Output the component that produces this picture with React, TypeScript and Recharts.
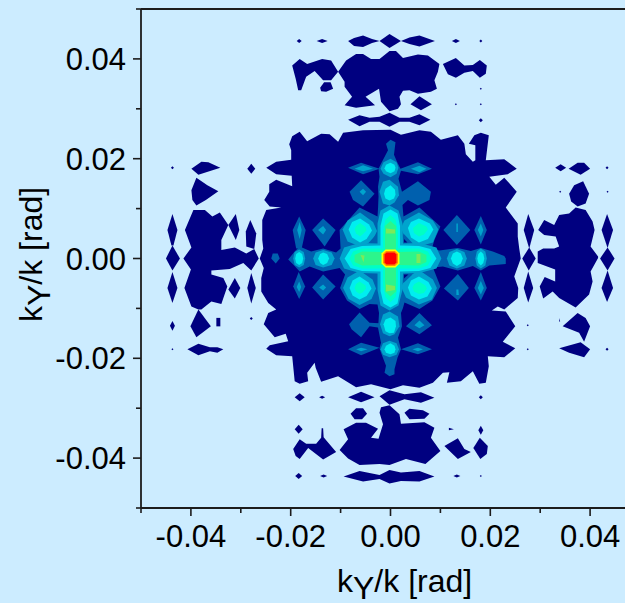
import React from "react";
import { ScatterChart, Scatter, XAxis, YAxis, ReferenceLine } from "recharts";

const mainBlob = [0,25.8, 2.1,24.8, 5.8,25.7, 8.1,25.4, 10.1,23.8, 13.5,24.7, 14.8,23.0, 15.1,20.9, 16.5,19.4, 17.0,19.7, 17.0,22.7, 15.7,23.0, 16.8,24.7, 18.1,25.2, 19.7,24.7, 19.1,19.7, 22.8,19.9, 25.3,18.0, 23.5,16.9, 19.8,16.4, 21.1,14.8, 22.8,16.2, 25.3,13.4, 23.1,10.2, 25.5,7.0, 25.5,4.4, 25.8,2.0, 26.1,0, 24.8,-3.6, 25.6,-5.9, 25.5,-7.9, 22.8,-10.2, 21.5,-9.6, 20.3,-10.4, 23.1,-10.6, 25.0,-13.6, 22.5,-16.7, 25.0,-18.0, 22.8,-19.8, 19.5,-19.6, 19.7,-21.6, 19.1,-24.9, 17.8,-25.1, 16.5,-22.6, 14.1,-24.6, 11.3,-24.9, 11.8,-22.8, 10.5,-22.9, 8.5,-24.9, 5.8,-25.9, 2.5,-25.4, 0,-26.2, -3.9,-25.2, -6.9,-25.8, -10.5,-23.6, -13.9,-24.7, -15.0,-21.9, -15.2,-20.9, -16.7,-22.9, -16.5,-24.6, -18.2,-25.1, -19.2,-24.6, -19.7,-19.6, -22.9,-19.4, -24.9,-18.1, -24.2,-17.4, -20.5,-16.6, -21.0,-15.1, -23.2,-15.8, -25.4,-13.2, -24.5,-10.9, -22.9,-10.2, -24.5,-8.9, -25.9,-6.6, -25.9,-3.9, -25.4,-1.9, -26.2,0, -25.5,2.0, -25.7,3.7, -25.7,7.7, -24.9,9.7, -21.9,10.2, -24.2,10.4, -25.3,11.7, -24.3,13.4, -24.3,14.9, -22.9,15.8, -19.7,14.5, -19.8,16.6, -22.9,16.9, -24.9,18.2, -22.9,19.4, -19.9,19.8, -19.9,21.7, -20.3,22.9, -19.7,24.5, -18.2,25.4, -16.7,23.5, -13.9,25.0, -12.2,24.9, -10.5,23.4, -9.5,25.2, -5.5,25.7];

const topIslands = [
  [-18.8,43.6, -18.3,44.0, -17.8,43.6, -18.3,43.2],
  [-14.8,43.6, -13.7,44.0, -12.6,43.6, -13.7,43.2],
  [-8.5,43.6, -7.3,44.2, -5.5,44.7, -3.7,44.0, -2.2,43.6, -3.7,43.2, -5.5,42.4, -7.3,42.6],
  [-2.2,43.6, -0.2,45.0, 2.1,43.6, -0.2,42.2],
  [2.1,43.6, 3.8,44.3, 5.8,44.7, 8.9,43.6, 5.8,42.5, 3.8,43.0],
  [12.3,43.6, 13.1,44.0, 13.9,43.6, 13.1,43.2],
  [17.8,43.6, 18.1,43.9, 18.4,43.6, 18.1,43.3],
  [-18.2,40.0, -16.7,39.0, -13.7,40.0, -11.9,39.7, -10.5,37.4, -11.9,35.7, -13.5,35.7, -15.2,37.6, -16.9,36.4, -17.9,33.7, -18.5,33.7, -19.0,36.0, -19.7,38.7],
  [-14.1,34.2, -13.3,35.3, -12.0,35.3, -11.5,34.0, -12.9,33.4, -13.9,33.5],
  [-10.5,37.4, -8.9,39.7, -6.9,41.0, -5.5,41.0, -3.9,40.0, -2.2,40.0, -0.2,41.6, 1.1,41.6, 2.5,40.2, 5.5,40.9, 7.5,40.7, 9.8,39.0, 9.5,37.4, 8.8,35.7, 9.3,34.0, 8.1,33.4, 5.5,33.0, 3.8,33.7, 2.5,33.6, 1.8,32.4, 2.1,30.9, 1.5,30.0, -0.2,29.5, -1.9,31.4, -2.3,34.0, -5.0,32.4, -3.1,30.7, -6.9,30.2, -9.2,30.7, -7.7,32.4, -9.2,34.4, -9.2,35.4],
  [4.0,30.9, 5.8,32.5, 8.3,30.9, 6.1,29.7],
  [10.5,39.0, 13.1,40.2, 14.8,38.7, 16.5,38.8, 17.9,39.8, 19.3,38.7, 19.1,37.0, 17.9,36.2, 16.5,37.6, 14.8,37.2, 13.1,36.2, 11.5,36.9],
  [17.9,34.0, 18.1,34.2, 18.3,34.0, 18.1,33.8],
  [12.9,30.9, 13.1,31.1, 13.3,30.9, 13.1,30.7],
  [17.9,30.9, 18.1,31.1, 18.3,30.9, 18.1,30.7],
  [17.7,27.7, 18.1,28.1, 18.5,27.7, 18.1,27.3],
  [-8.5,27.8, -6.2,28.7, -4.2,28.2, -2.2,28.4, -0.2,29.2, 1.8,28.2, 3.8,28.2, 5.8,28.9, 8.0,27.8, 5.8,26.7, 3.8,27.4, 1.8,27.4, -0.2,26.4, -2.2,27.4, -4.2,27.4, -6.2,26.5],
];

const leftIslands = [
  [-44.0,18.2, -43.7,18.5, -43.4,18.2, -43.7,17.9],
  [-39.9,18.0, -37.9,19.4, -36.5,19.3, -34.1,18.2, -38.5,16.8],
  [-28.7,18.0, -27.9,19.0, -27.1,18.0, -27.9,17.0],
  [-38.9,16.2, -36.7,14.7, -34.5,13.5, -37.0,11.7, -38.9,10.6, -39.7,11.7, -39.9,13.7],
  [-43.7,8.9, -42.7,5.7, -43.5,2.6, -43.9,2.6, -44.7,5.7],
  [-43.7,2.6, -42.2,0, -43.7,-2.4, -45.0,0],
  [-43.7,-2.7, -42.7,-5.9, -43.7,-8.9, -44.7,-5.9],
  [-41.5,0, -39.9,2.2, -41.2,5.7, -39.5,9.7, -37.2,9.7, -35.7,8.4, -34.2,9.2, -32.5,6.7, -33.9,3.7, -33.9,1.7, -31.2,2.2, -28.9,1.0, -27.3,1.9, -26.4,0, -27.9,-2.4, -29.5,-0.9, -32.2,-2.1, -35.9,-2.4, -35.9,-3.2, -33.5,-3.9, -32.7,-5.6, -33.9,-9.1, -35.9,-8.6, -37.9,-10.2, -38.5,-10.2, -39.9,-9.6, -41.3,-5.9, -40.0,-2.2],
  [-31.0,8.9, -30.3,5.7, -31.0,3.7, -32.5,6.7],
  [-28.1,7.7, -26.9,5.0, -27.3,1.9, -28.9,2.4, -29.0,5.4],
  [-31.2,-3.9, -30.1,-5.9, -31.2,-8.0, -32.5,-6.2],
  [-27.9,-2.9, -27.0,-5.9, -27.9,-9.0, -28.7,-5.9],
  [-38.5,-10.2, -36.0,-13.6, -38.9,-15.8, -40.1,-13.6],
  [-34.9,-11.9, -34.1,-11.9, -34.1,-13.6, -34.9,-13.6],
  [-28.2,-12.0, -27.9,-11.7, -27.6,-12.0, -27.9,-12.3],
  [-44.2,-13.5, -43.7,-12.5, -43.2,-13.5, -43.7,-14.5],
  [-43.9,-18.2, -43.7,-18.0, -43.5,-18.2, -43.7,-18.4],
  [-40.7,-18.2, -38.5,-17.1, -36.2,-17.8, -34.7,-17.8, -33.5,-18.2, -34.7,-18.9, -36.2,-18.6, -38.5,-19.4],
];

const bottomIslands = [
  [-19.2,-27.8, -18.2,-27.0, -17.2,-27.8, -18.2,-28.6],
  [-14.3,-27.8, -13.7,-27.5, -13.1,-27.8, -13.7,-28.1],
  [-8.5,-27.8, -5.9,-26.7, -3.2,-27.8, -5.9,-28.8],
  [-2.2,-27.6, -0.2,-26.4, 2.8,-27.2, 6.1,-26.8, 8.8,-27.9, 6.1,-28.9, 2.8,-28.2, -0.2,-29.3],
  [-8.0,-31.1, -6.9,-30.0, -5.5,-30.0, -4.7,-31.1, -5.7,-32.2, -7.2,-32.2],
  [2.8,-30.9, 3.8,-30.1, 6.5,-30.4, 7.8,-31.1, 6.8,-32.1, 3.8,-32.2],
  [-19.2,-34.2, -18.4,-33.3, -17.6,-34.2, -18.4,-35.1],
  [-19.5,-38.2, -18.2,-36.2, -16.9,-37.1, -14.9,-37.1, -13.9,-35.9, -13.8,-34.0, -13.5,-34.0, -13.4,-35.8, -10.9,-38.8, -13.5,-40.3, -16.5,-38.0, -18.2,-40.2, -19.0,-39.6],
  [-10.2,-38.4, -8.5,-36.2, -9.4,-34.2, -6.9,-32.9, -4.9,-32.9, -2.5,-34.1, -3.9,-35.9, -2.4,-36.1, -1.5,-33.2, -2.2,-30.9, -1.9,-29.8, -0.2,-29.4, 1.8,-31.2, 2.1,-33.1, 6.8,-32.8, 8.8,-33.9, 8.1,-35.9, 10.0,-38.6, 7.0,-41.2, 3.1,-40.2, -0.2,-41.4, -2.2,-41.2, -6.2,-41.4, -8.5,-40.1],
  [-19.1,-43.6, -18.4,-43.0, -17.7,-43.6, -18.4,-44.2],
  [-14.1,-43.6, -13.4,-43.3, -12.7,-43.6, -13.4,-43.9],
  [-9.4,-43.7, -6.2,-42.6, -2.2,-43.4, -0.2,-42.4, 2.1,-42.9, 5.8,-42.6, 8.8,-43.7, 5.8,-44.7, 2.1,-44.6, -0.2,-45.1, -2.2,-44.2, -5.5,-44.7],
  [11.7,-33.9, 12.7,-34.2, 11.7,-34.4],
  [17.7,-27.8, 18.1,-27.4, 18.5,-27.8, 18.1,-28.2],
  [17.6,-34.4, 18.1,-33.5, 18.6,-34.4, 18.1,-35.3],
  [10.8,-37.6, 13.5,-36.0, 14.8,-38.2, 16.1,-38.8, 13.5,-40.2],
  [16.6,-38.0, 17.9,-35.9, 19.5,-37.6, 19.3,-39.2, 18.0,-40.2],
  [12.6,-43.6, 13.3,-43.3, 14.0,-43.6, 13.3,-43.9],
  [17.9,-43.6, 18.1,-43.4, 18.3,-43.6, 18.1,-43.8],
];

const rightIslands = [
  [33.0,18.2, 34.1,18.9, 35.2,18.2, 34.1,17.5],
  [35.7,18.0, 37.5,19.2, 38.8,19.2, 40.0,18.0, 38.1,16.8],
  [43.1,18.2, 43.4,18.5, 43.7,18.2, 43.4,17.9],
  [33.8,13.4, 34.0,13.6, 34.2,13.4, 34.0,13.2],
  [43.3,13.4, 43.5,13.6, 43.7,13.4, 43.5,13.2],
  [35.8,13.0, 36.8,14.7, 38.6,15.5, 39.8,13.0, 39.1,11.0, 37.5,10.4, 36.2,11.4],
  [29.6,5.7, 30.8,7.7, 32.8,6.7, 33.8,8.7, 35.8,9.0, 37.1,10.2, 39.1,9.7, 40.5,7.4, 40.9,5.7, 40.1,2.4, 41.6,0.4, 41.6,0.1, 40.1,-2.6, 40.5,-4.6, 39.8,-7.2, 37.1,-9.8, 33.8,-7.9, 32.5,-6.6, 30.6,-8.0, 29.9,-5.6, 30.9,-3.7, 33.0,-4.6, 33.0,-2.2, 29.5,-0.9, 29.5,0.1, 29.5,1.4, 30.6,2.0, 32.8,2.0, 33.8,2.4, 33.1,4.4, 30.8,4.7],
  [27.6,8.9, 28.8,5.7, 27.8,2.0, 26.7,5.7],
  [27.8,2.2, 29.1,0, 27.7,-2.4, 26.4,0],
  [27.6,-2.6, 28.6,-5.9, 27.6,-8.8, 26.7,-5.9],
  [43.4,8.9, 44.6,5.7, 43.5,2.1, 42.3,5.7],
  [43.5,2.2, 44.9,0, 43.5,-2.4, 42.0,0],
  [43.5,-2.4, 44.6,-5.9, 43.4,-8.7, 42.3,-5.9],
  [33.8,-11.9, 34.0,-12.6, 33.8,-12.7],
  [34.5,-13.6, 37.5,-10.9, 39.1,-11.9, 40.0,-13.6, 38.8,-16.7, 37.8,-14.9],
  [33.8,-18.0, 38.1,-16.8, 40.0,-18.2, 38.8,-19.8, 35.8,-18.9],
  [27.3,-13.4, 27.5,-13.2, 27.7,-13.4, 27.5,-13.6],
  [27.3,-18.2, 27.5,-18.0, 27.7,-18.2, 27.5,-18.4],
  [43.1,-18.2, 43.4,-17.9, 43.7,-18.2, 43.4,-18.5],
];

const blueAreas = [
  [0,23.8, 1.0,23.3, 0.7,20.8, 1.3,19.4, 2.0,18.0, 5.5,19.3, 8.3,18.0, 5.5,16.9, 2.1,17.6, 1.6,16.0, 2.3,13.4, 5.5,15.5, 8.1,13.4, 7.8,11.7, 5.5,10.6, 3.5,11.7, 2.4,10.7, 2.6,8.4, 5.8,10.2, 10.0,6.4, 8.8,3.7, 8.3,2.0, 9.8,1.6, 13.5,2.1, 16.1,1.5, 18.1,2.1, 20.5,1.4, 22.8,0.5, 23.1,0, 23.1,-1.1, 19.8,-1.4, 18.1,-2.4, 16.5,-1.5, 13.5,-2.4, 10.5,-1.6, 8.5,-1.8, 10.0,-5.6, 8.4,-8.4, 5.8,-10.1, 2.8,-8.8, 2.5,-9.9, 2.1,-10.9, 2.3,-13.6, 1.5,-15.9, 2.1,-18.2, 1.4,-19.9, 0.8,-22.2, 0.8,-23.2, -0.2,-23.6, -1.2,-22.9, -0.9,-21.5, -1.9,-18.9, -2.2,-18.0, -1.9,-16.9, -2.5,-13.9, -2.4,-12.6, -2.3,-10.9, -2.6,-9.2, -4.2,-9.1, -6.2,-10.1, -8.7,-8.4, -10.1,-5.9, -9.1,-3.2, -10.2,-1.9, -13.5,-2.6, -16.2,-1.6, -18.2,-2.6, -19.5,-1.2, -20.5,-0.2, -19.2,1.4, -18.2,2.4, -15.9,1.4, -13.5,2.0, -10.9,1.2, -10.0,2.0, -10.2,5.7, -6.2,10.2, -2.6,8.4, -2.5,10.0, -2.4,12.4, -2.5,14.4, -2.2,16.4, -2.4,18.0, -1.9,19.0, -0.5,21.7, -0.9,23.0],
  [-23.9,0, -23.6,1.0, -22.6,1.0, -22.2,0, -23.0,-1.0],
  [-8.2,13.4, -5.9,15.7, -3.2,13.0, -5.5,10.4, -7.5,11.7],
  [-8.5,18.2, -5.9,19.2, -2.2,18.0, -5.5,16.9],
  [-13.5,8.0, -11.0,5.7, -13.2,2.4, -15.7,5.7],
  [-18.3,8.4, -17.0,5.7, -17.8,2.0, -18.9,2.0, -19.6,5.7],
  [10.6,5.7, 13.3,8.7, 16.0,5.7, 13.3,2.7],
  [18.1,8.5, 19.3,5.7, 18.1,2.8, 16.8,5.7],
  [10.7,-6.0, 13.5,-3.1, 15.7,-5.9, 13.5,-8.4],
  [18.1,-2.7, 19.3,-5.9, 18.1,-8.4, 16.8,-5.9],
  [3.1,-13.6, 5.8,-10.9, 8.3,-13.4, 5.8,-15.2],
  [2.1,-18.2, 5.5,-17.0, 8.3,-18.2, 5.5,-19.2],
  [-8.5,-18.2, -5.9,-16.9, -2.2,-17.9, -5.9,-19.4],
  [-8.3,-13.2, -6.2,-10.8, -4.2,-12.9, -2.2,-13.0, -2.2,-13.9, -4.2,-13.6, -5.9,-15.8, -7.8,-14.2],
  [-19.5,-5.6, -18.4,-2.7, -17.1,-5.6, -18.3,-8.1],
  [-15.7,-5.8, -13.5,-3.2, -11.0,-5.6, -13.5,-8.2],
];

const tealAreas = [
  [-0.2,10.6, 1.6,9.6, 2.4,7.0, 2.5,3.0, 5.8,3.1, 9.2,2.2, 10.2,0, 9.2,-2.0, 5.8,-2.9, 2.5,-3.0, 2.4,-6.3, 1.6,-9.4, -0.2,-10.4, -2.0,-9.4, -2.6,-6.3, -2.6,-3.0, -6.2,-2.9, -9.3,-2.0, -10.2,0, -9.3,2.2, -6.2,3.1, -2.6,3.0, -2.6,7.0, -2.0,9.6],
  [5.7,9.2, 8.5,7.6, 9.6,5.8, 8.5,3.2, 5.7,2.4, 3.1,3.6, 2.1,6.1, 2.8,7.6],
  [-6.1,9.2, -3.5,7.3, -2.7,5.5, -3.7,3.4, -6.1,2.4, -8.6,3.4, -9.6,5.8, -8.6,7.6],
  [-6.2,-2.4, -3.6,-4.2, -2.9,-6.0, -3.8,-8.1, -6.2,-9.3, -8.4,-8.1, -9.5,-5.9, -8.6,-3.8],
  [5.7,-2.3, 8.5,-4.2, 9.3,-5.9, 8.3,-8.2, 5.7,-9.2, 3.1,-7.8, 2.1,-5.6, 3.1,-4.0],
  [0,20.0, 1.2,19.3, 1.6,18.2, 1.2,17.0, 0,16.3, -1.4,17.0, -2.0,18.0, -1.4,19.3],
  [-0.2,15.8, 1.5,14.4, 1.7,12.7, 0.8,11.2, -0.2,10.6, -1.5,11.0, -2.2,13.4, -1.5,15.4],
  [-0.2,-10.6, 1.5,-11.6, 1.8,-13.6, 0.8,-15.2, -0.2,-15.6, -1.5,-15.0, -2.1,-13.2, -1.5,-11.2],
  [-0.2,-16.5, 1.2,-17.0, 1.7,-18.2, 1.2,-19.3, -0.2,-19.8, -1.5,-19.3, -2.0,-18.2, -1.5,-17.0],
  [11.3,0, 11.8,1.3, 13.3,1.9, 14.8,1.3, 15.3,0, 14.8,-1.4, 13.3,-2.0, 11.8,-1.4],
  [17.0,0, 17.3,1.4, 18.1,2.0, 19.0,1.4, 19.3,0, 19.0,-1.4, 18.1,-2.0, 17.3,-1.4],
  [-15.5,0, -15.0,1.2, -13.5,1.7, -11.8,1.2, -11.2,0, -11.8,-1.3, -13.5,-1.8, -15.0,-1.3],
  [-19.5,0, -19.2,1.3, -18.3,1.8, -17.4,1.3, -17.1,0, -17.4,-1.3, -18.3,-1.8, -19.2,-1.3],
  [-18.7,5.7, -18.2,7.3, -17.8,5.7, -18.2,3.9],
  [-14.5,5.7, -13.5,6.5, -12.9,5.7, -13.5,4.8],
  [17.5,5.7, 18.1,7.0, 18.6,5.7, 18.1,4.4],
  [13.2,7.0, 13.5,7.0, 13.5,5.3, 13.2,5.3],
  [-18.8,-5.7, -18.3,-4.6, -17.9,-5.7, -18.3,-6.7],
  [-14.3,-5.8, -13.5,-5.2, -12.9,-5.8, -13.5,-6.4],
  [17.5,-5.9, 18.1,-4.5, 18.7,-5.9, 18.1,-7.2],
  [13.2,-6.2, 13.6,-6.2, 13.7,-7.3, 13.2,-7.3],
  [4.1,18.0, 5.8,18.6, 7.2,18.0, 5.8,17.3],
  [-7.2,18.0, -5.5,18.7, -3.5,18.0, -5.5,17.5],
  [4.4,-18.2, 5.5,-17.9, 6.5,-18.2, 5.5,-18.6],
  [-6.9,-18.2, -5.9,-17.9, -4.6,-18.2, -5.9,-18.6],
  [4.8,-13.4, 5.8,-12.4, 6.8,-13.4, 5.8,-14.0],
  [-6.2,13.4, -5.5,14.0, -4.9,13.4, -5.5,12.7],
];

const blueNotches = [
  [2.6,3.2, 4.4,3.1, 2.6,5.0],
  [2.6,-3.2, 4.4,-3.2, 2.6,-4.9],
  [-2.7,3.2, -4.4,3.1, -2.7,5.0],
  [-2.7,-3.2, -4.4,-3.2, -2.7,-5.0],
];

const navyNotches = [
  [2.7,3.2, 3.4,3.2, 2.7,3.9],
  [2.7,-3.2, 3.6,-3.2, 2.7,-4.0],
];

const cyanAreas = [
  [0,9.8, 1.4,9.0, 1.9,6.5, 1.9,2.6, 5.7,2.5, 8.0,1.9, 9.2,0, 8.0,-1.9, 5.7,-2.5, 1.9,-2.6, 1.9,-6.5, 1.4,-9.0, 0,-9.8, -1.4,-9.0, -2.0,-6.5, -2.0,-2.6, -5.7,-2.5, -8.0,-1.9, -9.2,0, -8.0,1.9, -5.7,2.5, -2.0,2.6, -2.0,6.5, -1.4,9.0],
  [5.7,8.0, 7.9,7.0, 8.6,5.8, 7.5,3.9, 5.7,3.2, 4.1,4.2, 3.5,6.1, 4.1,7.3],
  [-6.1,8.0, -4.3,6.8, -3.7,5.6, -4.8,3.9, -6.1,3.2, -7.7,4.2, -8.4,5.8, -7.7,7.3],
  [-6.2,-3.6, -4.4,-4.8, -3.8,-6.0, -4.8,-7.5, -6.2,-8.2, -7.6,-7.4, -8.2,-5.9, -7.6,-4.4],
  [5.7,-3.6, 7.6,-4.7, 8.3,-6.0, 7.4,-7.6, 5.7,-8.2, 4.1,-7.4, 3.5,-5.8, 4.1,-4.4],
  [0,19.2, 0.8,18.8, 1.0,18.2, 0.8,17.5, 0,17.1, -0.9,17.5, -1.2,18.1, -0.9,18.8],
  [0,14.7, 0.9,13.8, 1.0,12.8, 0.7,12.0, -0.2,11.6, -1.0,12.0, -1.3,13.0, -1.0,14.0],
  [0,-11.8, 1.0,-12.5, 1.1,-13.6, 0.7,-14.9, -0.2,-15.0, -1.0,-14.6, -1.4,-13.2, -1.0,-12.2],
  [0,-17.0, 0.8,-17.5, 1.0,-18.2, 0.8,-18.9, 0,-19.2, -0.9,-18.9, -1.2,-18.2, -0.9,-17.5],
  [12.1,0, 12.5,1.0, 13.3,1.4, 14.1,1.0, 14.5,0, 14.1,-1.0, 13.3,-1.5, 12.5,-1.0],
  [17.4,0, 17.6,0.9, 18.1,1.4, 18.6,0.9, 18.8,0, 18.6,-0.9, 18.1,-1.4, 17.6,-0.9],
  [-14.5,0, -14.1,0.9, -13.5,1.2, -12.7,0.9, -12.3,0, -12.7,-0.9, -13.5,-1.3, -14.1,-0.9],
  [-19.1,0, -18.9,0.9, -18.3,1.3, -17.7,0.9, -17.5,0, -17.7,-0.9, -18.3,-1.3, -18.9,-0.9],
];

const aquaAreas = [
  [0,8.7, 1.0,7.8, 1.5,5.5, 1.5,2.0, 5.7,2.0, 7.5,1.4, 8.2,0, 7.5,-1.4, 5.7,-2.0, 1.5,-2.0, 1.5,-5.5, 1.0,-7.8, 0,-8.7, -1.0,-7.8, -1.5,-5.5, -1.5,-2.0, -5.7,-2.0, -7.5,-1.4, -8.2,0, -7.5,1.4, -5.7,2.0, -1.5,2.0, -1.5,5.5, -1.0,7.8],
  [5.7,7.1, 7.2,6.4, 7.5,5.8, 6.7,4.8, 5.7,4.4, 4.7,5.1, 4.5,6.1],
  [-6.1,7.1, -5.0,6.3, -4.8,5.6, -5.6,4.8, -6.1,4.4, -6.9,5.0, -7.2,5.8, -6.9,6.5],
  [-6.2,-4.6, -5.0,-5.4, -4.9,-6.0, -5.6,-6.8, -6.2,-7.1, -6.9,-6.6, -7.2,-5.9, -6.9,-5.1],
  [5.7,-4.6, 7.0,-5.4, 7.3,-6.0, 6.7,-6.9, 5.7,-7.1, 4.7,-6.6, 4.4,-5.8, 4.8,-5.1],
];

const greenAreas = [
  [1.5,1.3, 5.7,1.4, 7.2,0.7, 7.2,-0.7, 5.7,-1.4, 1.5,-1.3],
  [-1.5,1.3, -5.7,1.4, -7.2,0.7, -7.2,-0.7, -5.7,-1.4, -1.5,-1.3],
  [0,7.5, 1.1,6.5, 1.1,1.5, -1.1,1.5, -1.1,6.5],
  [0,-7.6, 1.1,-6.6, 1.1,-1.5, -1.1,-1.5, -1.1,-6.6],
];

const limeAreas = [
  [5.2,0.9, 6.0,0.9, 6.0,-0.9, 5.2,-0.9],
  [-6.0,0.7, -5.2,0.6, -5.4,-0.8],
  [-0.9,6.0, 0.9,5.8, 0.9,5.0, -0.9,5.0],
  [-0.9,-5.2, 0.9,-5.5, 0.9,-6.3, -0.9,-6.6],
];

const yellowCore = [[-1.0,1.8, 1.0,1.8, 1.8,1.0, 1.8,-1.0, 1.0,-1.8, -1.0,-1.8, -1.8,-1.0, -1.8,1.0]];
const orangeCore = [[-0.9,1.5, 0.9,1.5, 1.5,0.9, 1.5,-0.9, 0.9,-1.5, -0.9,-1.5, -1.5,-0.9, -1.5,0.9]];
const redCore = [[-0.8,1.2, 0.8,1.2, 1.2,0.8, 1.2,-0.8, 0.8,-1.2, -0.8,-1.2, -1.2,-0.8, -1.2,0.8]];

const NAVY = "#000080";
const layers: [number[][], string][] = [
  [[mainBlob], NAVY],
  [topIslands, NAVY],
  [leftIslands, NAVY],
  [bottomIslands, NAVY],
  [rightIslands, NAVY],
  [blueAreas, "#0060ae"],
  [tealAreas, "#00a4cd"],
  [blueNotches, "#0060ae"],
  [navyNotches, NAVY],
  [cyanAreas, "#00eef0"],
  [aquaAreas, "#00ffc4"],
  [greenAreas, "#2cf58c"],
  [limeAreas, "#7cea5a"],
  [yellowCore, "#ffff00"],
  [orangeCore, "#ff9000"],
  [redCore, "#ff0000"],
];

const tickValues = [-0.05, -0.04, -0.03, -0.02, -0.01, 0, 0.01, 0.02, 0.03, 0.04, 0.05];
const labelledTicks = ["-0.04", "-0.02", "0.00", "0.02", "0.04"];

const toPoints = (flat: number[]) => {
  const pts: { x: number; y: number }[] = [];
  for (let i = 0; i + 1 < flat.length; i += 2) pts.push({ x: flat[i] / 1000, y: flat[i + 1] / 1000 });
  return pts;
};

const INK = "#1c1c1c";
const FONT = "'Liberation Sans', Arial, sans-serif";
const FS = 31;
const TITLE_FS = 32;

const XTick = (p: any) => {
  const t = Number(p.payload.value).toFixed(2);
  const major = labelledTicks.includes(t);
  return (
    <g>
      <line x1={p.x} x2={p.x} y1={p.y} y2={p.y + (major ? 8 : 5)} stroke={INK} strokeWidth={1.6} />
      {major && (
        <text x={p.x} y={p.y + 39} textAnchor="middle" fontFamily={FONT} fontSize={FS} fill="#000">{t}</text>
      )}
    </g>
  );
};

const YTick = (p: any) => {
  const t = Number(p.payload.value).toFixed(2);
  const major = labelledTicks.includes(t);
  return (
    <g>
      <line x1={p.x} x2={p.x - (major ? 8 : 5)} y1={p.y} y2={p.y} stroke={INK} strokeWidth={1.6} />
      {major && (
        <text x={p.x - 15} y={p.y + 11} textAnchor="end" fontFamily={FONT} fontSize={FS} fill="#000">{t}</text>
      )}
    </g>
  );
};

const XTitle = () => (
  <text x={337} y={592} fontFamily={FONT} fontSize={TITLE_FS} fill="#000">
    k<tspan dy={7}>Y</tspan><tspan dy={-7}>/k [rad]</tspan>
  </text>
);

const YTitle = () => (
  <text transform="translate(42,322) rotate(-90)" fontFamily={FONT} fontSize={TITLE_FS} fill="#000">
    k<tspan dy={8}>Y</tspan><tspan dy={-8}>/k [rad]</tspan>
  </text>
);

export default function App() {
  return (
    <div style={{ position: "absolute", left: 0, top: 0, width: 625, height: 603, overflow: "hidden", background: "#ccecff" }}>
      <ScatterChart width={700} height={603} margin={{ top: 9, right: 60, bottom: 0, left: 0 }}>
        <XAxis type="number" dataKey="x" domain={[-0.05, 0.05]} ticks={tickValues} interval={0} height={95}
          axisLine={{ stroke: INK, strokeWidth: 1.8 }} tickLine={false} tickSize={0} tickMargin={0}
          tick={<XTick />} label={{ content: XTitle }} />
        <YAxis type="number" dataKey="y" domain={[-0.05, 0.05]} ticks={tickValues} interval={0} width={141}
          axisLine={{ stroke: INK, strokeWidth: 1.8 }} tickLine={false} tickSize={0} tickMargin={0}
          tick={<YTick />} label={{ content: YTitle }} />
        {layers.flatMap(([polys, color], li) =>
          polys.map((poly, pi) => (
            <Scatter key={`${li}-${pi}`} data={toPoints(poly)} isAnimationActive={false}
              shape={() => <g />} line={{ fill: color, stroke: "none" }} fill={color} />
          ))
        )}
        <ReferenceLine y={0.05} stroke={INK} strokeWidth={1.8} />
      </ScatterChart>
    </div>
  );
}
